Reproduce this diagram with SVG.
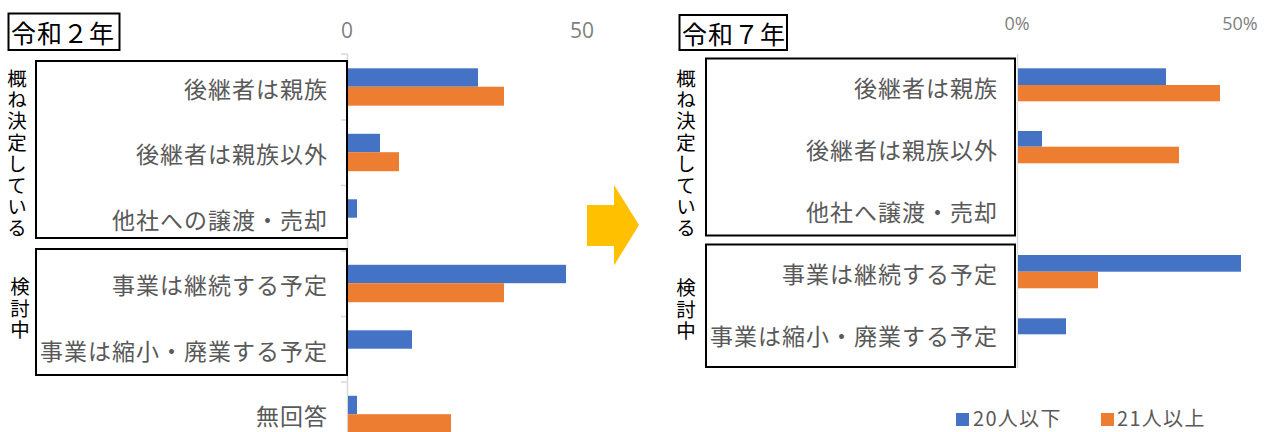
<svg xmlns="http://www.w3.org/2000/svg" width="1279" height="432" viewBox="0 0 1279 432">
<style>
text{font-family:"Noto Sans CJK JP","Noto Sans",sans-serif}
.lbl{font-size:23px;fill:#595959;text-anchor:end;dominant-baseline:central;letter-spacing:1px}
.ax{font-family:"Open Sans","Noto Sans",sans-serif;fill:#7f7f7f;text-anchor:middle;dominant-baseline:central}
.ttl{font-size:25px;fill:#000;dominant-baseline:central;letter-spacing:1px}
.vt{font-size:19.5px;fill:#000;writing-mode:vertical-rl;text-orientation:upright;letter-spacing:1.9px}
.box{fill:none;stroke:#000;stroke-width:2}
.axis{stroke:#d9d9d9;stroke-width:1.5;fill:none}
.b{fill:#4472c4}
.o{fill:#ed7d31}
.leg{font-size:20px;fill:#595959;dominant-baseline:central;letter-spacing:1.3px}
</style>

<g id="left-chart">
  <g id="left-title">
    <rect class="box" x="8.5" y="13.5" width="111" height="36.5"/>
    <text class="ttl" x="11" y="32">令和２年</text>
  </g>
  <g id="left-axis">
    <text class="ax" x="347" y="30" font-size="21">0</text>
    <text class="ax" x="582" y="30" font-size="21">50</text>
    <path class="axis" d="M347.5 54V432M341 54H347.5M341 120H347.5M341 185.5H347.5M341 251H347.5M341 316.5H347.5M341 382H347.5"/>
  </g>
  <g id="left-group-decided">
    <rect class="box" x="36" y="61" width="311" height="177"/>
    <text class="vt" x="17" y="68.5">概ね決定している</text>
  </g>
  <g id="left-group-considering">
    <rect class="box" x="36" y="249" width="311" height="126"/>
    <text class="vt" x="20" y="277">検討中</text>
  </g>
  <g id="left-labels">
    <text class="lbl" x="328" y="87.5">後継者は親族</text>
    <text class="lbl" x="328" y="153">後継者は親族以外</text>
    <text class="lbl" x="328" y="218.5">他社への譲渡・売却</text>
    <text class="lbl" x="328" y="284">事業は継続する予定</text>
    <text class="lbl" x="328" y="349.5">事業は縮小・廃業する予定</text>
    <text class="lbl" x="328" y="415">無回答</text>
  </g>
  <g id="left-bars">
    <rect class="b" x="348" y="68.3" width="130" height="18.4"/>
    <rect class="o" x="348" y="86.7" width="156" height="19"/>
    <rect class="b" x="348" y="133.8" width="32" height="18.4"/>
    <rect class="o" x="348" y="152.2" width="51" height="19"/>
    <rect class="b" x="348" y="199.3" width="9" height="18.4"/>
    <rect class="b" x="348" y="264.8" width="218" height="18.4"/>
    <rect class="o" x="348" y="283.2" width="156" height="19"/>
    <rect class="b" x="348" y="330.3" width="64" height="18.4"/>
    <rect class="b" x="348" y="395.8" width="9" height="18.4"/>
    <rect class="o" x="348" y="414.2" width="103" height="19"/>
  </g>
</g>

<g id="connectors">
  <polygon id="arrow" fill="#ffc000" points="587,205 614,205 614,185 639,225 614,265.5 614,246 587,246"/>
</g>

<g id="right-chart">
  <g id="right-title">
    <rect class="box" x="679.5" y="15" width="107.5" height="35"/>
    <text class="ttl" x="682" y="32.5">令和７年</text>
  </g>
  <g id="right-axis">
    <text class="ax" x="1017" y="23" font-size="18">0%</text>
    <text class="ax" x="1240" y="23" font-size="18">50%</text>
    <path class="axis" d="M1017.5 54V368"/>
  </g>
  <g id="right-group-decided">
    <rect class="box" x="706" y="58.5" width="309" height="177"/>
    <text class="vt" x="686" y="68.5">概ね決定している</text>
  </g>
  <g id="right-group-considering">
    <rect class="box" x="706" y="244.5" width="309" height="122.5"/>
    <text class="vt" x="686" y="278">検討中</text>
  </g>
  <g id="right-labels">
    <text class="lbl" x="998" y="86.5">後継者は親族</text>
    <text class="lbl" x="998" y="149">後継者は親族以外</text>
    <text class="lbl" x="998" y="211">他社へ譲渡・売却</text>
    <text class="lbl" x="998" y="273">事業は継続する予定</text>
    <text class="lbl" x="998" y="335">事業は縮小・廃業する予定</text>
  </g>
  <g id="right-bars">
    <rect class="b" x="1018" y="68.3" width="148" height="16.7"/>
    <rect class="o" x="1018" y="85" width="202" height="16.3"/>
    <rect class="b" x="1018" y="131" width="24" height="15.7"/>
    <rect class="o" x="1018" y="146.7" width="161" height="16.6"/>
    <rect class="b" x="1018" y="255" width="223" height="16.7"/>
    <rect class="o" x="1018" y="271.7" width="80" height="16.6"/>
    <rect class="b" x="1018" y="318.3" width="48" height="16"/>
  </g>
  <g id="legend">
    <rect class="b" x="956" y="413" width="13" height="13"/>
    <text class="leg" x="973" y="417">20人以下</text>
    <rect class="o" x="1101" y="413" width="13" height="13"/>
    <text class="leg" x="1117" y="417">21人以上</text>
  </g>
</g>
</svg>
